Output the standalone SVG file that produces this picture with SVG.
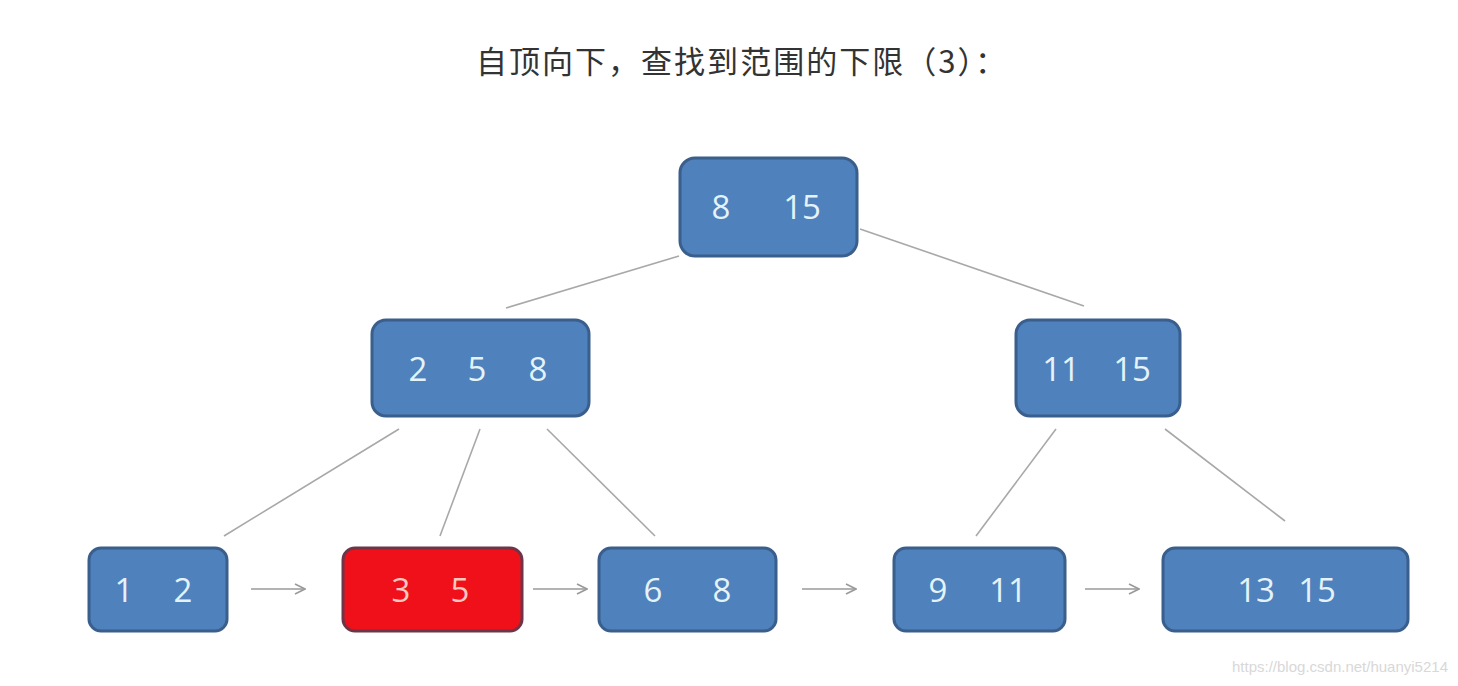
<svg xmlns="http://www.w3.org/2000/svg" width="1458" height="686" viewBox="0 0 1458 686">
<defs>
<style>
.box{fill:#4f81bd;stroke:#3b5f8c;stroke-width:3}
.red{fill:#f0101a;stroke:#6e3548;stroke-width:3}
.num{font-family:"Open Sans","DejaVu Sans",sans-serif;font-size:33px;fill:#e4f3f8;text-anchor:middle}
.numr{font-family:"Open Sans","DejaVu Sans",sans-serif;font-size:33px;fill:#f8c8c0;text-anchor:middle}
.edge{stroke:#a8a8a8;stroke-width:1.6;fill:none}
.arr{stroke:#9a9a9a;stroke-width:1.6;fill:none;marker-end:url(#ah)}
</style>
<marker id="ah" viewBox="0 0 12 12" refX="11" refY="6" markerWidth="12" markerHeight="12" markerUnits="userSpaceOnUse" orient="auto">
<path d="M1 1 L11 6 L1 11" fill="none" stroke="#9a9a9a" stroke-width="1.6"/>
</marker>
</defs>
<rect width="1458" height="686" fill="#ffffff"/>
<text x="476" y="73" font-family="'Noto Sans CJK SC',sans-serif" font-size="31" fill="#333333" textLength="530" lengthAdjust="spacing">自顶向下，查找到范围的下限（3）：</text>
<g id="connectors">
<line class="edge" x1="679" y1="256" x2="506" y2="308"/>
<line class="edge" x1="860" y1="229" x2="1084" y2="306"/>
<line class="edge" x1="399" y1="429" x2="224" y2="536"/>
<line class="edge" x1="480" y1="429" x2="440" y2="536"/>
<line class="edge" x1="547" y1="429" x2="655" y2="536"/>
<line class="edge" x1="1056" y1="429" x2="976" y2="536"/>
<line class="edge" x1="1165" y1="429" x2="1285" y2="521"/>
<line class="arr" x1="251" y1="589" x2="305" y2="589"/>
<line class="arr" x1="533" y1="589" x2="587" y2="589"/>
<line class="arr" x1="802" y1="589" x2="856" y2="589"/>
<line class="arr" x1="1085" y1="589" x2="1139" y2="589"/>
</g>
<g id="root"><rect class="box" x="680" y="158" width="177" height="98" rx="15"/><text class="num" x="721" y="219">8</text><text class="num" x="802" y="219">15</text></g>
<g id="n258"><rect class="box" x="372" y="320" width="217" height="96" rx="14"/><text class="num" x="418" y="381">2</text><text class="num" x="477" y="381">5</text><text class="num" x="538" y="381">8</text></g>
<g id="n1115"><rect class="box" x="1016" y="320" width="164" height="96" rx="14"/><text class="num" x="1061" y="381">11</text><text class="num" x="1132" y="381">15</text></g>
<g id="l12"><rect class="box" x="89" y="548" width="138" height="83" rx="12"/><text class="num" x="124" y="602">1</text><text class="num" x="183" y="602">2</text></g>
<g id="l35"><rect class="red" x="343" y="548" width="179" height="83" rx="12"/><text class="numr" x="401" y="602">3</text><text class="numr" x="460" y="602">5</text></g>
<g id="l68"><rect class="box" x="599" y="548" width="177" height="83" rx="12"/><text class="num" x="653" y="602">6</text><text class="num" x="722" y="602">8</text></g>
<g id="l911"><rect class="box" x="894" y="548" width="171" height="83" rx="12"/><text class="num" x="938" y="602">9</text><text class="num" x="1008" y="602">11</text></g>
<g id="l1315"><rect class="box" x="1163" y="548" width="245" height="83" rx="12"/><text class="num" x="1256" y="602">13</text><text class="num" x="1317" y="602">15</text></g>
<text x="1448" y="672" font-family="'Liberation Sans',sans-serif" font-size="15" fill="#d8d8d8" text-anchor="end">https://blog.csdn.net/huanyi5214</text>
</svg>
